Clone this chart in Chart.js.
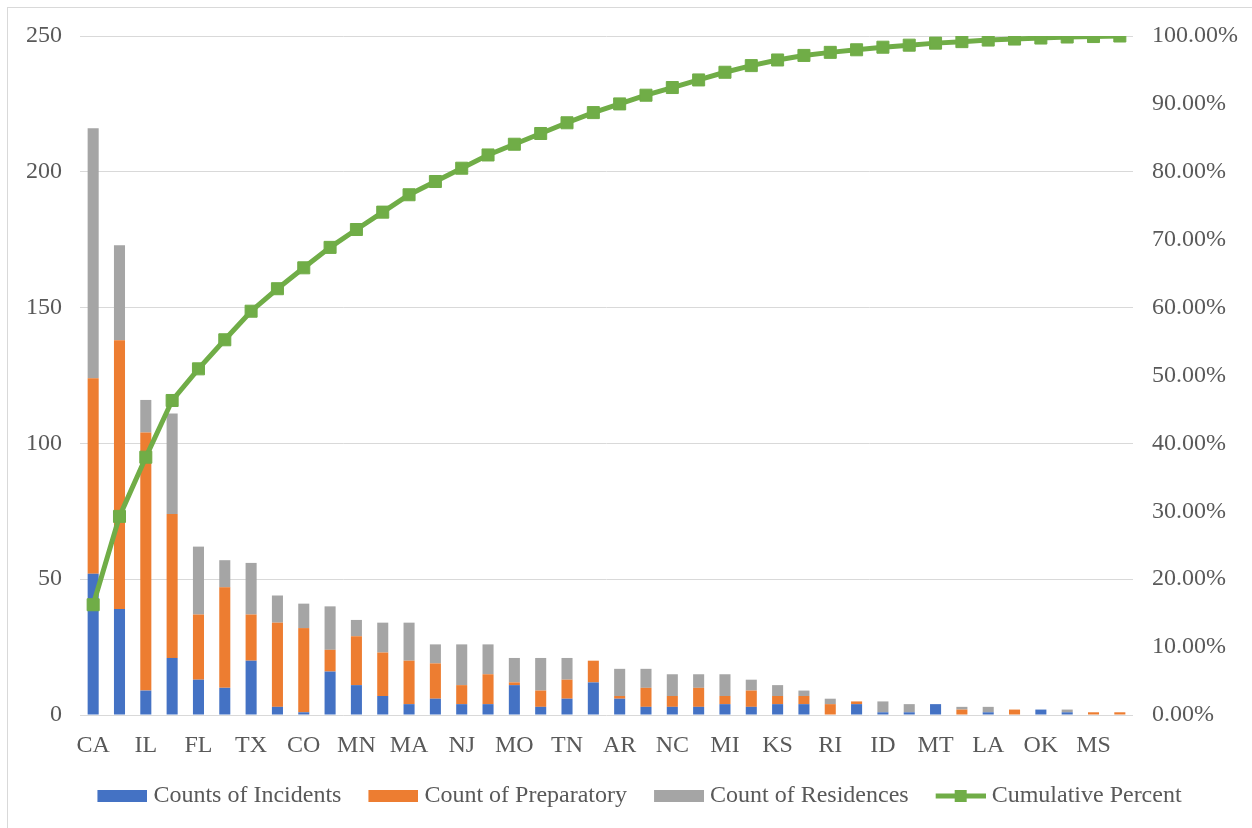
<!DOCTYPE html>
<html>
<head>
<meta charset="utf-8">
<script src="https://cdn.jsdelivr.net/npm/chart.js@4.4.0/dist/chart.umd.min.js"></script>
<style>
  html, body { margin: 0; padding: 0; background: #ffffff; overflow: hidden; }
  #wrap { position: absolute; left: 0; top: 0; width: 1252px; height: 828px; }
  #frame { position: absolute; left: 7px; top: 7px; width: 1270px; height: 850px;
           border: 1px solid #d9d9d9; box-sizing: border-box; pointer-events: none; }
  canvas { display: block; }
</style>
</head>
<body>
<div id="wrap"><canvas id="chart" width="1252" height="828"></canvas></div>
<div id="frame"></div>
<script>
// States, ordered by total count
const states = ['CA','NY','IL','PA','FL','OH','TX','WA','CO','AZ',
                'MN','WI','MA','VA','NJ','GA','MO','MD','TN','OR',
                'AR','IN','NC','KY','MI','UT','KS','NV','RI','IA',
                'ID','NE','MT','SC','LA','NM','OK','DE','MS','WY'];

const incidents   = [52,39,9,21,13,10,20,3,1,16, 11,7,4,6,4,4,11,3,6,12,
                     6,3,3,3,4,3,4,4,0,4, 1,1,4,0,1,0,2,1,0,0];
const preparatory = [72,99,95,53,24,37,17,31,31,8, 18,16,16,13,7,11,1,6,7,8,
                     1,7,4,7,3,6,3,3,4,1, 0,0,0,2,0,2,0,0,1,1];
const residences  = [92,35,12,37,25,10,19,10,9,16, 6,11,14,7,15,11,9,12,8,0,
                     10,7,8,5,8,4,4,2,2,0, 4,3,0,1,2,0,0,1,0,0];
const cumulativePercent = [16.24,29.25,37.97,46.32,50.98,55.26,59.47,62.78,65.86,68.87,
                           71.50,74.06,76.62,78.57,80.53,82.48,84.06,85.64,87.22,88.72,
                           90.00,91.28,92.41,93.53,94.66,95.64,96.47,97.14,97.59,97.97,
                           98.35,98.65,98.95,99.17,99.40,99.55,99.70,99.85,99.92,100.00];

const countTicks = [0, 50, 100, 150, 200, 250];

const BLUE = '#4472C4', ORANGE = '#ED7D31', GREY = '#A5A5A5', GREEN = '#70AD47';
const TEXT = '#595959', GRID = '#d9d9d9';
const FONT = { family: "'Liberation Serif', 'Times New Roman', serif", size: 24 };

// Legend swatches drawn as small canvases (box or line-with-marker)
const SWATCH_SLOT = 61;
function swatch(kind, color) {
  const c = document.createElement('canvas');
  c.width = SWATCH_SLOT + 12; c.height = 16;
  const g = c.getContext('2d');
  if (kind === 'box') {
    g.fillStyle = color;
    g.fillRect(23, 2, 50, 12);
  } else {
    g.strokeStyle = color; g.lineWidth = 5;
    g.beginPath(); g.moveTo(23, 8); g.lineTo(73, 8); g.stroke();
    g.fillStyle = color;
    g.fillRect(42, 2, 12, 12);
  }
  return c;
}
const swatches = [swatch('box', BLUE), swatch('box', ORANGE), swatch('box', GREY), swatch('line', GREEN)];

// Nudge the legend row slightly to the right of centre
const legendNudge = {
  id: 'legendNudge',
  afterLayout(chart) {
    if (chart.legend) { chart.legend.left += 5; chart.legend.right += 5; }
  }
};

new Chart(document.getElementById('chart'), {
  type: 'bar',
  plugins: [legendNudge],
  data: {
    labels: states,
    datasets: [
      { label: 'Counts of Incidents', data: incidents, backgroundColor: BLUE, order: 1, yAxisID: 'y' },
      { label: 'Count of Preparatory', data: preparatory, backgroundColor: ORANGE, order: 1, yAxisID: 'y' },
      { label: 'Count of Residences', data: residences, backgroundColor: GREY, order: 1, yAxisID: 'y' },
      { type: 'line', label: 'Cumulative Percent', data: cumulativePercent, yAxisID: 'y1', order: 0,
        borderColor: GREEN, backgroundColor: GREEN, borderWidth: 5, tension: 0,
        pointStyle: 'rect', pointRadius: 8.5, pointBorderWidth: 1,
        pointBackgroundColor: GREEN, pointBorderColor: GREEN }
    ]
  },
  options: {
    responsive: false,
    animation: false,
    devicePixelRatio: 1,
    layout: { padding: { top: 36, left: 0, right: 0, bottom: 10 } },
    datasets: { bar: { categoryPercentage: 1, barPercentage: 0.42 } },
    scales: {
      x: {
        stacked: true,
        grid: { display: false, drawTicks: false },
        border: { display: false },
        afterFit: s => { s.height = 59; },
        ticks: {
          autoSkip: false, maxRotation: 0, padding: 16, color: TEXT, font: FONT,
          callback: (v, i) => (i % 2 === 0 ? states[i] : '')
        }
      },
      y: {
        stacked: true, position: 'left', min: 0, max: 250,
        afterFit: s => { s.width = 80; },
        afterBuildTicks: s => { s.ticks = countTicks.map(v => ({ value: v })); },
        grid: { color: GRID, lineWidth: 1, drawTicks: false },
        border: { display: false },
        ticks: { padding: 18, color: TEXT, font: FONT }
      },
      y1: {
        position: 'right', min: 0, max: 100,
        afterFit: s => { s.width = 119; },
        grid: { display: false, drawTicks: false },
        border: { display: false },
        ticks: { stepSize: 10, padding: 19, color: TEXT, font: FONT,
                 callback: v => v.toFixed(2) + '%' }
      }
    },
    plugins: {
      tooltip: { enabled: false },
      legend: {
        position: 'bottom',
        labels: {
          usePointStyle: true,
          pointStyleWidth: SWATCH_SLOT,
          boxHeight: 12,
          padding: 10,
          color: TEXT,
          font: FONT,
          generateLabels: chart => chart.data.datasets.map((ds, i) => ({
            text: ds.label, datasetIndex: i, pointStyle: swatches[i],
            fillStyle: ds.backgroundColor, strokeStyle: ds.backgroundColor,
            lineWidth: 0, hidden: false, fontColor: TEXT
          }))
        }
      }
    }
  }
});
</script>
</body>
</html>
